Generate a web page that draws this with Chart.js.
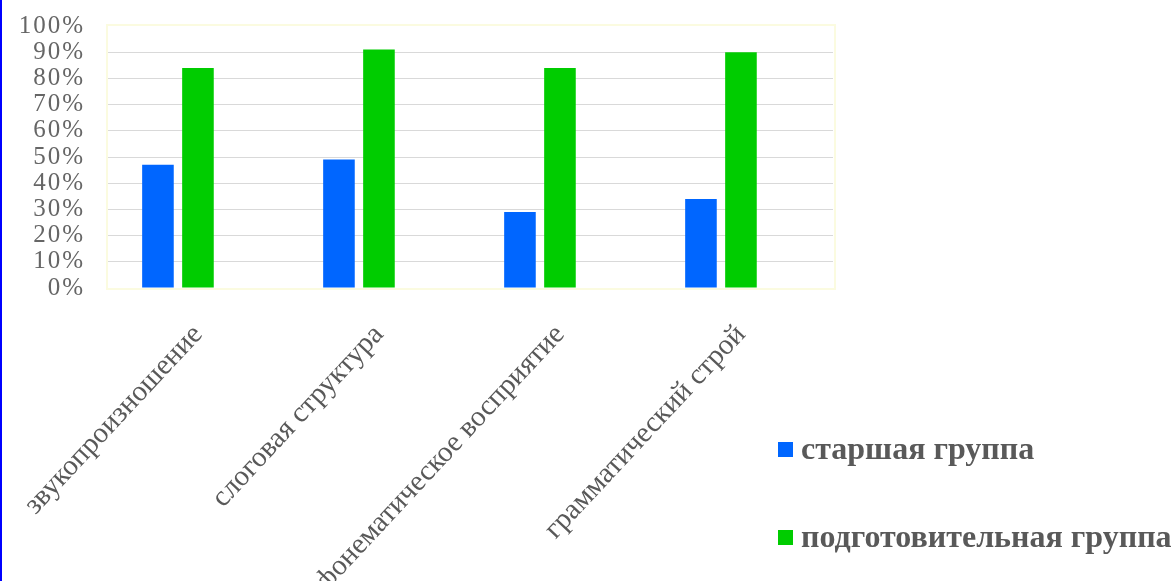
<!DOCTYPE html>
<html>
<head>
<meta charset="utf-8">
<script src="https://cdn.jsdelivr.net/npm/chart.js@4.4.1/dist/chart.umd.min.js"></script>
<style>
  html, body { margin: 0; padding: 0; background: #ffffff; }
  #wrap { position: relative; width: 1171px; height: 581px; }
</style>
</head>
<body>
<div id="wrap"><canvas id="chart" width="1171" height="581"></canvas></div>
<script>
// Speech development indicators by group
const categories = ['звукопроизношение', 'слоговая структура', 'фонематическое восприятие', 'грамматический строй'];
const seniorGroup = [47, 49, 29, 34];
const prepGroup = [84, 91, 84, 90];
const seriesNames = ['старшая группа', 'подготовительная группа'];
const yTicks = [0, 10, 20, 30, 40, 50, 60, 70, 80, 90, 100];

const toPoints = arr => arr.map((v, i) => ({ x: i, y: v }));
const serif = '"Liberation Serif", "Times New Roman", serif';

// Plot frame, left edge rule, wide-set percent labels and the legend block
const decor = {
  id: 'decor',
  beforeDraw(chart) {
    // value-axis labels (layer z = 0) are drawn before the bars: give them a wider set
    chart.ctx.letterSpacing = '2px';
  },
  beforeDatasetsDraw(chart) {
    const { ctx, chartArea: a } = chart;
    ctx.letterSpacing = '0px';
    ctx.save();
    ctx.strokeStyle = '#fbfbe0';
    ctx.lineWidth = 2;
    ctx.strokeRect(a.left, a.top - 1, a.right - a.left + 2, a.bottom - a.top + 2);
    ctx.restore();
  },
  afterDraw(chart) {
    const { ctx } = chart;
    ctx.save();
    ctx.letterSpacing = '0px';
    ctx.fillStyle = '#0000ff';
    ctx.fillRect(0, 0, 2, chart.height);
    const rows = [451, 539];
    ctx.font = 'bold 32px ' + serif;
    ctx.textBaseline = 'middle';
    ctx.textAlign = 'left';
    chart.data.datasets.forEach((ds, i) => {
      const y = rows[i];
      ctx.fillStyle = ds.backgroundColor;
      ctx.fillRect(778, y - 9, 15, 15);
      ctx.fillStyle = '#595959';
      ctx.fillText(ds.label, 801, y);
    });
    ctx.restore();
  }
};

new Chart(document.getElementById('chart'), {
  type: 'bar',
  data: {
    datasets: [
      { label: seriesNames[0], data: toPoints(seniorGroup), backgroundColor: '#0066ff' },
      { label: seriesNames[1], data: toPoints(prepGroup), backgroundColor: '#00cc00' }
    ]
  },
  options: {
    responsive: false,
    animation: false,
    events: [],
    layout: { padding: { left: 0, top: 26, right: 338, bottom: 0 } },
    datasets: { bar: { categoryPercentage: 0.442, barPercentage: 0.79 } },
    plugins: { legend: { display: false }, tooltip: { enabled: false } },
    scales: {
      x: {
        type: 'linear',
        offset: false,
        min: -0.392,
        max: 3.619,
        grid: { display: false, drawTicks: false, offset: false },
        border: { display: false },
        afterBuildTicks(scale) { scale.ticks = categories.map((_, i) => ({ value: i })); },
        afterFit(scale) {
          scale.height = 293;
          scale.paddingLeft = 0;
          scale.paddingRight = 0;
        },
        ticks: {
          z: 1,
          minRotation: 47,
          maxRotation: 47,
          padding: 30,
          labelOffset: 20,
          autoSkip: false,
          color: '#595959',
          font: { family: serif, size: 29 },
          callback: v => categories[v]
        }
      },
      y: {
        min: 0,
        max: 100,
        afterBuildTicks(scale) { scale.ticks = yTicks.map(v => ({ value: v })); },
        afterFit(scale) {
          scale.width = 107;
          scale.paddingTop = 0;
          scale.paddingBottom = 0;
        },
        grid: {
          drawTicks: false,
          color: c => (c.tick && c.tick.value === 100 ? 'rgba(0,0,0,0)' : '#d9d9d9')
        },
        border: { display: false },
        ticks: {
          padding: 22,
          autoSkip: false,
          color: '#666666',
          font: { family: serif, size: 25 },
          callback: v => v + '%'
        }
      }
    }
  },
  plugins: [decor]
});
</script>
</body>
</html>
